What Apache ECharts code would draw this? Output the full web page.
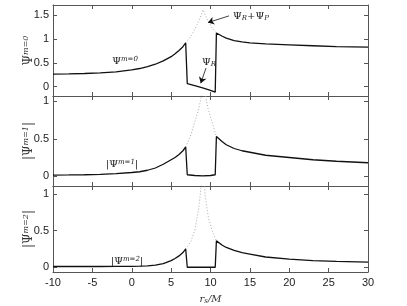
<!DOCTYPE html>
<html><head><meta charset="utf-8">
<script src="https://cdn.jsdelivr.net/npm/echarts@6/dist/echarts.min.js"></script>
<style>html,body{margin:0;padding:0;background:#fff}#c{width:407px;height:306px}</style>
</head><body><div id="c"></div>
<script>
// ---- data ----
var xSolid = [-10,-8,-6,-4,-2,0,1,2,3,4,5,5.5,6,6.5,6.85,7.05,8,9,10,10.6,10.75,11.5,12,13,14,15,17,20,23,26,30];
var m0 = [0.26,0.265,0.275,0.29,0.31,0.35,0.38,0.42,0.47,0.54,0.63,0.69,0.76,0.84,0.92,0.06,0.02,-0.03,-0.08,-0.12,1.13,1.06,1.02,0.97,0.94,0.92,0.9,0.88,0.86,0.84,0.83];
var m1 = [0.015,0.017,0.02,0.025,0.035,0.05,0.06,0.08,0.11,0.16,0.22,0.25,0.29,0.34,0.39,0.02,0.01,0.005,0.01,0.02,0.53,0.46,0.42,0.37,0.34,0.32,0.28,0.25,0.22,0.2,0.18];
var m2 = [0.01,0.01,0.01,0.01,0.011,0.013,0.015,0.02,0.03,0.05,0.09,0.12,0.155,0.2,0.25,0.0,0.0,0.0,0.0,0.0,0.36,0.3,0.27,0.23,0.2,0.18,0.14,0.11,0.09,0.08,0.07];
var xDot = [6.85,7.5,8,8.5,8.8,9.05,9.3,9.7,10.2,10.75];
var d0 = [0.92,1.06,1.2,1.38,1.5,1.62,1.52,1.38,1.24,1.13];
var d1 = [0.39,0.55,0.72,0.9,1.05,1.35,1.1,0.9,0.72,0.53];
var d2 = [0.25,0.35,0.5,0.8,1.1,1.6,1.0,0.7,0.5,0.36];
var xTicks = [-10,-5,0,5,10,15,20,25,30];
var yTicks0 = [0,0.5,1,1.5];
var yTicks12 = [0,0.5,1];
var yNames = ['m=0','m=1','m=2'];
var yAbs = [false,true,true];
// annotation arrows (data coords)
var arrowPD = [[12.35,1.49],[9.68,1.35]];
var arrowR = [[9.43,0.39],[8.76,0.07]];

function pair(xs, ys){ return xs.map(function(x,i){return [x, ys[i]];}); }

var chart = echarts.init(document.getElementById('c'), null, {renderer:'canvas'});
var grids = [
  {left:53, width:315, top:5, height:91},
  {left:53, width:315, top:96, height:90},
  {left:53, width:315, top:186, height:91}
];
var yr = [[-0.2,1.72],[-0.13,1.07],[-0.065,1.11]];
var axCol = '#555';
var lblFont = 'Liberation Sans';
var serif = 'DejaVu Serif';
var xAxes = [], yAxes = [], series = [];
var solids = [m0,m1,m2], dots = [d0,d1,d2];
for (var i=0;i<3;i++){
  grids[i].show = false;
  xAxes.push({gridIndex:i, type:'value', min:-10, max:30, position:'bottom',
    axisLine:{show:true,onZero:false,lineStyle:{color:axCol,width:1}},
    axisTick:{show:true,inside:true,length:4,customValues:xTicks,lineStyle:{color:axCol}},
    axisLabel:{show:i===2, customValues:xTicks, color:'#222', fontSize:11, fontFamily:lblFont, margin:5},
    splitLine:{show:false},
    name: i===2 ? '{i|r}{sub|s}{i|/M}' : '', nameLocation:'middle', nameGap:22, nameMoveOverlap:false,
    nameTextStyle:{rich:{i:{fontFamily:serif,fontStyle:'italic',fontSize:10,color:'#333'},sub:{fontFamily:serif,fontStyle:'italic',fontSize:7,color:'#333',verticalAlign:'bottom',padding:[4,0,0,0]}}}
  });
  xAxes.push({gridIndex:i, type:'value', min:-10, max:30, position:'top',
    axisLine:{show:true,onZero:false,lineStyle:{color:axCol,width:1}},
    axisTick:{show:true,inside:true,length:4,customValues:xTicks,lineStyle:{color:axCol}},
    axisLabel:{show:false}, splitLine:{show:false}});
  var yt = i===0 ? yTicks0 : yTicks12;
  yAxes.push({gridIndex:i, type:'value', min:yr[i][0], max:yr[i][1], position:'left',
    axisLine:{show:true,onZero:false,lineStyle:{color:axCol,width:1}},
    axisTick:{show:true,inside:true,length:4,customValues:yt,lineStyle:{color:axCol}},
    axisLabel:{customValues:yt, color:'#222', fontSize:11, fontFamily:lblFont, margin:4},
    splitLine:{show:false},
    name: (yAbs[i]?'|':'')+'{i|Ψ}{sup|'+yNames[i]+'}'+(yAbs[i]?'|':''), nameLocation:'middle', nameRotate:90, nameGap:18, nameMoveOverlap:false,
    nameTextStyle:{fontFamily:serif,fontSize:12,color:'#333',
      rich:{i:{fontFamily:serif,fontSize:12,color:'#333'},sup:{fontFamily:serif,fontStyle:'italic',fontSize:8,color:'#333',verticalAlign:'top',padding:[0,0,5,0]}}}
  });
  yAxes.push({gridIndex:i, type:'value', min:yr[i][0], max:yr[i][1], position:'right',
    axisLine:{show:true,onZero:false,lineStyle:{color:axCol,width:1}},
    axisTick:{show:true,inside:true,length:4,customValues:yt,lineStyle:{color:axCol}},
    axisLabel:{show:false}, splitLine:{show:false}});
  var s = {type:'line', xAxisIndex:2*i, yAxisIndex:2*i, data:pair(xSolid, solids[i]), symbol:'none',
    lineStyle:{color:'#111', width:1.3}, z:3, silent:true, animation:false};
  if (i===0){
    s.markLine = {silent:true, animation:false, symbol:['none','arrow'], symbolSize:6,
      lineStyle:{color:'#111', width:0.8, type:'solid'}, label:{show:false},
      data:[
        [{coord:arrowPD[0]},{coord:arrowPD[1]}],
        [{coord:arrowR[0]},{coord:arrowR[1]}]
      ]};
  }
  series.push(s);
  series.push({type:'line', xAxisIndex:2*i, yAxisIndex:2*i, data:pair(xDot, dots[i]), symbol:'none',
    lineStyle:{color:'#aaa', width:1, type:[1,2]}, z:2, silent:true, animation:false, clip:true});
}
var rich = {i:{fontFamily:serif,fontSize:10,fill:'#222'},
            sup:{fontFamily:serif,fontStyle:'italic',fontSize:7,fill:'#222',verticalAlign:'top',padding:[0,0,4,0]},
            sub:{fontFamily:serif,fontStyle:'italic',fontSize:7,fill:'#222',verticalAlign:'bottom',padding:[4,0,0,0]}};
var ann = [
  {x:125, y:61, parts:'{i|Ψ}{sup|m=0}'},
  {x:122, y:164, parts:'|{i|Ψ}{sup|m=1}|'},
  {x:127, y:261, parts:'|{i|Ψ}{sup|m=2}|'},
  {x:251, y:16, parts:'{i|Ψ}{sub|R}{i|+Ψ}{sub|P}'},
  {x:209, y:62, parts:'{i|Ψ}{sub|R}'}
];
var g2 = ann.map(function(a){
  return {type:'text', x:a.x, y:a.y, silent:true, z:10,
    style:{text:a.parts, align:'center', verticalAlign:'middle', font:'10px "DejaVu Serif"', fill:'#222', rich:rich}};
});
chart.setOption({
  animation:false,
  grid:grids, xAxis:xAxes, yAxis:yAxes, series:series, graphic:{elements:g2}
});
</script>
</body></html>
